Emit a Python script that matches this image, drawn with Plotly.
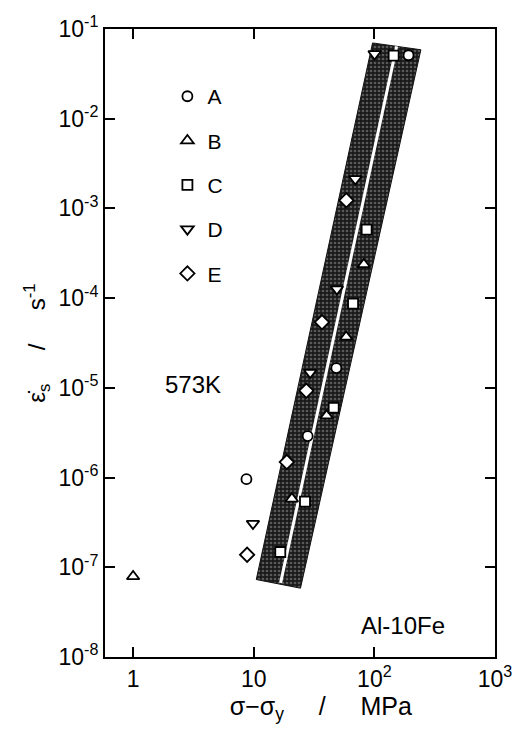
import plotly.graph_objects as go

# ---- data ----
series_names = ["A", "B", "C", "D", "E"]
A_x = [192.0, 48.4, 28.0, 8.7]
A_y = [5.1e-2, 1.66e-5, 2.9e-6, 9.6e-7]
B_x = [1.0, 20.7, 40.2, 58.4, 81.8]
B_y = [7.9e-8, 5.8e-7, 4.9e-6, 3.7e-5, 2.37e-4]
C_x = [16.6, 26.6, 46.0, 66.6, 86.3, 144.5]
C_y = [1.48e-7, 5.4e-7, 6.0e-6, 8.7e-5, 5.8e-4, 5.06e-2]
D_x = [9.85, 29.4, 48.9, 69.5, 100.4]
D_y = [3.07e-7, 1.48e-5, 1.26e-4, 2.13e-3, 5.27e-2]
E_x = [8.81, 18.8, 27.3, 36.8, 58.6]
E_y = [1.38e-7, 1.49e-6, 9.3e-6, 5.4e-5, 1.23e-3]

# scatter band (corners) and its centre line
band_x = [10.5, 24.4, 243.0, 96.6, 10.5]
band_y = [7.3e-8, 5.85e-8, 5.87e-2, 6.99e-2, 7.3e-8]
fit_x = [16.7, 153.0]
fit_y = [6.7e-8, 6.4e-2]

x_tickvals = [1, 10, 100, 1000]
x_ticktext = ["1", "10", "10<sup>2</sup>", "10<sup>3</sup>"]
y_tickvals = [1e-8, 1e-7, 1e-6, 1e-5, 1e-4, 1e-3, 1e-2, 1e-1]
y_ticktext = ["10<sup>-8</sup>", "10<sup>-7</sup>", "10<sup>-6</sup>", "10<sup>-5</sup>",
              "10<sup>-4</sup>", "10<sup>-3</sup>", "10<sup>-2</sup>", "10<sup>-1</sup>"]

FONT = "Liberation Sans, Arial, sans-serif"

fig = go.Figure()

fig.add_trace(go.Scatter(
    x=band_x, y=band_y, mode="lines", fill="toself",
    fillcolor="#2a2a2a",
    fillpattern=dict(shape=".", bgcolor="#1a1a1a", fgcolor="#9a9a9a", size=4, solidity=0.35),
    line=dict(color="#111111", width=1), showlegend=False, hoverinfo="skip"))

fig.add_trace(go.Scatter(
    x=fit_x, y=fit_y, mode="lines", line=dict(color="white", width=3),
    showlegend=False, hoverinfo="skip"))

sizes = [10, 11, 10, 11, 11]
xs = [A_x, B_x, C_x, D_x, E_x]
ys = [A_y, B_y, C_y, D_y, E_y]
sym_fill = ["circle", "triangle-up", "square", "triangle-down", "diamond"]

for name, sx, sy, sym, sz in zip(series_names, xs, ys, sym_fill, sizes):
    fig.add_trace(go.Scatter(
        x=sx, y=sy, mode="markers", name=name, legendgroup=name,
        marker=dict(symbol=sym, size=sz, color="white",
                    line=dict(color="black", width=1.8))))

axis_common = dict(
    type="log", showline=True, linecolor="black", linewidth=2, mirror="all",
    ticks="inside", ticklen=10, tickwidth=2, tickcolor="black",
    showgrid=False, zeroline=False,
    tickfont=dict(family=FONT, size=23, color="black"),
)

fig.update_xaxes(**axis_common, range=[-0.233, 3.0],
                 tickvals=x_tickvals, ticktext=x_ticktext,
                 title=dict(text="&nbsp;&nbsp;&nbsp;&nbsp;&nbsp;&nbsp;σ−σ<sub>y</sub>     /     MPa",
                            font=dict(family=FONT, size=25, color="black"),
                            standoff=2))
fig.update_yaxes(**axis_common, range=[-8, -1],
                 tickvals=y_tickvals, ticktext=y_ticktext,
                 title=dict(text="ε̇<sub>s</sub>     /     s<sup>-1</sup>",
                            font=dict(family=FONT, size=24, color="black"),
                            standoff=6))

fig.add_annotation(text="573K", xref="paper", yref="paper", x=0.149, y=0.434,
                   xanchor="left", yanchor="middle", showarrow=False,
                   font=dict(family=FONT, size=24, color="black"))
fig.add_annotation(text="Al-10Fe", xref="paper", yref="paper", x=0.877, y=0.0506,
                   xanchor="right", yanchor="middle", showarrow=False,
                   font=dict(family=FONT, size=24, color="black"))

fig.update_layout(
    width=528, height=730,
    margin=dict(l=105, r=33, t=25, b=73),
    paper_bgcolor="white", plot_bgcolor="white",
    font=dict(family=FONT, color="black"),
    legend=dict(x=0.16, y=0.925, xanchor="left", yanchor="top",
                bgcolor="rgba(0,0,0,0)", borderwidth=0,
                font=dict(family=FONT, size=21, color="black"),
                tracegroupgap=14),
    showlegend=True,
)

fig.write_html("out.html")
